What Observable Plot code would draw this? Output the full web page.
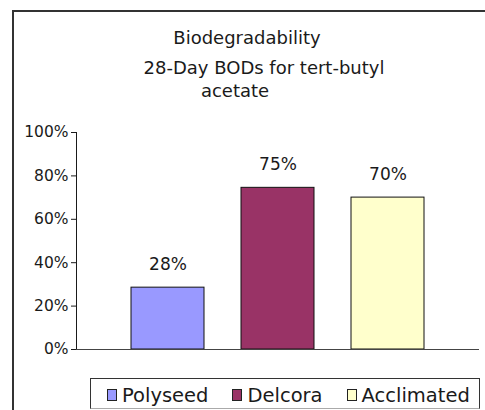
<!DOCTYPE html>
<html>
<head>
<meta charset="utf-8">
<script src="https://cdn.jsdelivr.net/npm/d3@7"></script>
<script src="https://cdn.jsdelivr.net/npm/@observablehq/plot@0.6"></script>
<style>
  html, body { margin: 0; padding: 0; background: #fff; }
  #wrap { position: relative; width: 485px; height: 410px; overflow: hidden; font-family: "DejaVu Sans", sans-serif; color: #1a1a1a; }
  #chart { position: absolute; left: 0; top: 0; }
  .frame { position: absolute; left: 12px; top: 10px; width: 500px; height: 420px; border-left: 2px solid #333; border-top: 2px solid #333; pointer-events: none; }
  .t { position: absolute; white-space: nowrap; transform: translateX(-50%); font-size: 18px; line-height: 1; }
  #legend { position: absolute; left: 90px; top: 378px; width: 390px; height: 31px; border: 1px solid #333; border-bottom-color: #aaa; box-sizing: border-box; display: flex; align-items: center; padding-left: 16px; padding-top: 3px; font-size: 19.5px; }
  .item { display: flex; align-items: center; margin-right: 24px; }
  .sw { width: 8px; height: 10px; border: 1px solid #222; margin-right: 5px; }
</style>
</head>
<body>
<div id="wrap">
  <div id="chart"></div>
  <div class="frame"></div>
  <div class="t" id="title" style="left:247px; top:29px;">Biodegradability</div>
  <div class="t" id="sub1" style="left:264px; top:59px;">28-Day BODs for tert-butyl</div>
  <div class="t" id="sub2" style="left:235px; top:82px;">acetate</div>
  <div id="legend"></div>
</div>
<script>
const categories = ["Polyseed", "Delcora", "Acclimated"];
const values = [0.285, 0.745, 0.70];
const valueLabels = ["28%", "75%", "70%"];
const colors = ["#9999FF", "#993366", "#FFFFCC"];
const yTicks = [0, 0.2, 0.4, 0.6, 0.8, 1.0];

const data = categories.map((c, i) => ({cat: c, value: values[i], label: valueLabels[i]}));

const plot = Plot.plot({
  width: 485,
  height: 410,
  marginLeft: 76,
  marginRight: 6,
  marginTop: 132,
  marginBottom: 61,
  style: {fontFamily: "DejaVu Sans, sans-serif", fontSize: "15.5px", color: "#1a1a1a", background: "transparent"},
  x: {domain: categories, paddingInner: 0.334, paddingOuter: 0.49, align: 0.5, axis: null},
  y: {domain: [0, 1], ticks: yTicks, tickFormat: d => Math.round(d * 100) + "%", tickSize: 5, tickPadding: 3, line: true, label: null},
  color: {domain: categories, range: colors},
  marks: [
    Plot.barY(data, {x: "cat", y: "value", fill: "cat", stroke: "#111", strokeWidth: 1}),
    Plot.ruleY([0], {stroke: "#444"}),
    Plot.text(data, {x: "cat", y: "value", text: "label", dy: -23, fontSize: 17})
  ]
});
document.getElementById("chart").appendChild(plot);

const legend = document.getElementById("legend");
categories.forEach((c, i) => {
  const item = document.createElement("div");
  item.className = "item";
  const sw = document.createElement("div");
  sw.className = "sw";
  sw.style.background = colors[i];
  const lab = document.createElement("span");
  lab.textContent = c;
  item.appendChild(sw);
  item.appendChild(lab);
  legend.appendChild(item);
});
</script>
</body>
</html>
